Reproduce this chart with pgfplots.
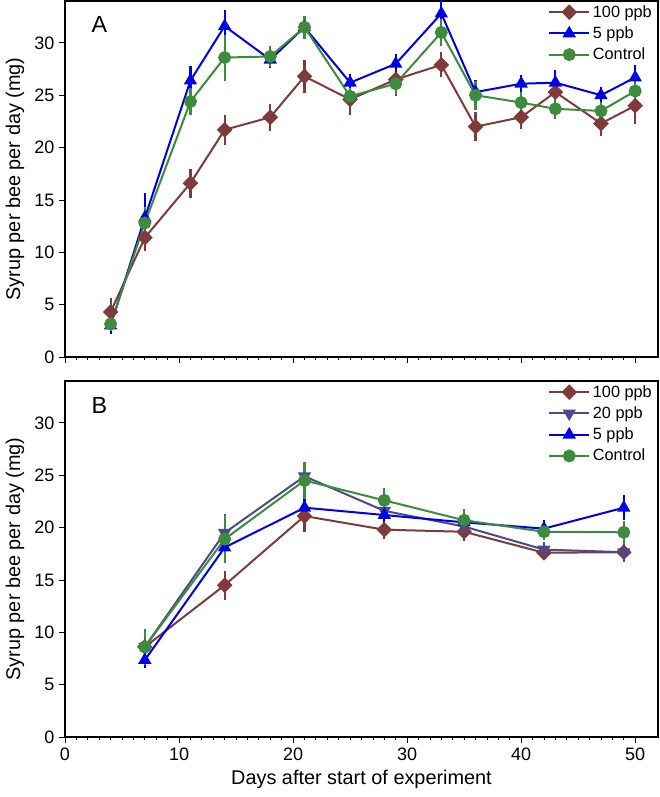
\documentclass[border=0pt]{standalone}
\usepackage{fontspec}
\setmainfont{Liberation Sans}
\usepackage{pgfplots}
\pgfplotsset{compat=1.18}
\usetikzlibrary{calc}

\definecolor{cBrown}{RGB}{128,58,58}
\definecolor{cSlate}{RGB}{74,74,140}
\definecolor{cBlue}{RGB}{0,0,230}
\definecolor{cGreen}{RGB}{61,139,61}

\pgfplotsset{
  panel/.style={
    scale only axis,
    width=444.75pt, height=267pt,
    xmin=0, xmax=52, ymin=0, ymax=34,
    xtick={0,10,...,50}, ytick={0,5,...,30},
    minor x tick num=9,
    tick align=outside, tick pos=left,
    major tick length=4.5pt, minor tick length=2.6pt,
    every tick/.style={black, line width=0.6pt},
    axis line style={line width=0.8pt},
    /pgf/number format/assume math mode=true,
    tick label style={font=\fontsize{13.5}{15}\selectfont},
    ylabel={Syrup per bee per day (mg)},
    ylabel style={at={(axis description cs:-0.0843,0.5)}, anchor=center,
      font=\fontsize{14.9}{17}\selectfont},
    legend style={draw=none, fill=none, at={(rel axis cs:1,1)}, anchor=north east,
      xshift=-1.5pt, yshift=0pt,
      font=\fontsize{12.2}{14}\selectfont, row sep=1.6pt, inner sep=1pt,
      cells={anchor=west}},
    legend image code/.code={\draw[mark repeat=2,mark phase=2,#1]
      plot coordinates {(0pt,0pt) (15pt,0pt) (30pt,0pt)};},
    error bars/y dir=both, error bars/y explicit,
    error bars/error mark=none,
  },
  sBrown/.style={color=cBrown, line width=1.5pt, mark=square*, mark size=3.4pt,
    mark options={rotate=45, solid},
    error bars/error bar style={line width=1.6pt, color=cBrown}},
  sSlate/.style={color=cSlate, line width=1.5pt, mark=triangle*, mark size=4.3pt,
    mark options={rotate=180, solid},
    error bars/error bar style={line width=1.6pt, color=cSlate}},
  sBlue/.style={color=cBlue, line width=1.5pt, mark=triangle*, mark size=4.3pt,
    mark options={solid},
    error bars/error bar style={line width=1.6pt, color=cBlue}},
  sGreen/.style={color=cGreen, line width=1.5pt, mark=*, mark size=4.1pt,
    mark options={solid},
    error bars/error bar style={line width=1.6pt, color=cGreen}},
}

\begin{document}
\begin{tikzpicture}
\begin{axis}[panel, name=A, xticklabels={}]
  \addplot[sBrown] table[y error=e] {
    x y e
    4 4.3 1.3
    7 11.4 1.3
    11 16.6 1.4
    14 21.7 1.45
    18 22.9 1.3
    21 26.8 1.6
    25 24.6 1.5
    29 26.5 1.6
    33 27.9 1.2
    36 22.0 1.4
    40 22.9 1.1
    43 25.3 1.2
    47 22.3 1.2
    50 24.0 1.7
  };
  \addlegendentry{100 ppb}
  \addplot[sBlue] table[y error=e] {
    x y e
    4 3.0 0.8
    7 13.3 2.4
    11 26.4 1.4
    14 31.6 1.5
    18 28.4 0.8
    21 31.5 1.0
    25 26.2 0.8
    29 28.0 0.9
    33 32.8 1.3
    36 25.3 1.2
    40 26.1 0.8
    43 26.2 1.2
    47 25.0 0.8
    50 26.7 1.2
  };
  \addlegendentry{5 ppb}
  \addplot[sGreen] table[y error=e] {
    x y e
    4 3.15 0.7
    7 12.8 1.5
    11 24.4 1.3
    14 28.6 2.2
    18 28.7 1.0
    21 31.5 1.1
    25 24.9 0.8
    29 26.1 1.0
    33 31.0 1.3
    36 25.0 1.4
    40 24.3 1.0
    43 23.7 1.0
    47 23.5 0.9
    50 25.4 1.0
  };
  \addlegendentry{Control}
  \node[font=\fontsize{17.5}{20}\selectfont] at (rel axis cs:0.058,0.935) {A};
\end{axis}

\begin{axis}[panel, name=B, at={($(A.south west)+(0,-18pt)$)}, anchor=north west,
  xlabel={Days after start of experiment},
  xlabel style={at={(axis description cs:0.5,0)}, anchor=center, yshift=-31.5pt,
    font=\fontsize{14.9}{17}\selectfont}]
  \addplot[sBrown] table[y error=e] {
    x y e
    7 8.6 0.9
    14 14.5 1.4
    21 21.1 1.5
    28 19.8 0.9
    35 19.6 0.9
    42 17.6 0.7
    49 17.65 0.9
  };
  \addlegendentry{100 ppb}
  \addplot[sSlate] table[y error=e] {
    x y e
    7 8.6 0.9
    14 19.5 1.8
    21 24.9 1.2
    28 21.6 0.9
    35 20.1 0.9
    42 17.9 0.7
    49 17.65 0.7
  };
  \addlegendentry{20 ppb}
  \addplot[sBlue] table[y error=e] {
    x y e
    7 7.35 0.8
    14 18.1 1.3
    21 21.9 1.0
    28 21.2 0.85
    35 20.5 0.8
    42 19.9 0.8
    49 21.9 1.2
  };
  \addlegendentry{5 ppb}
  \addplot[sGreen] table[y error=e] {
    x y e
    7 8.6 1.75
    14 18.9 2.3
    21 24.5 1.8
    28 22.6 1.2
    35 20.7 1.1
    42 19.6 0.8
    49 19.55 1.1
  };
  \addlegendentry{Control}
  \node[font=\fontsize{17.5}{20}\selectfont] at (rel axis cs:0.058,0.93) {B};
\end{axis}

\pgfresetboundingbox
\path ($(A.south west)+(-48.75pt,267.75pt)$) rectangle ($(A.south west)+(446.25pt,-330pt)$);
\end{tikzpicture}
\end{document}
